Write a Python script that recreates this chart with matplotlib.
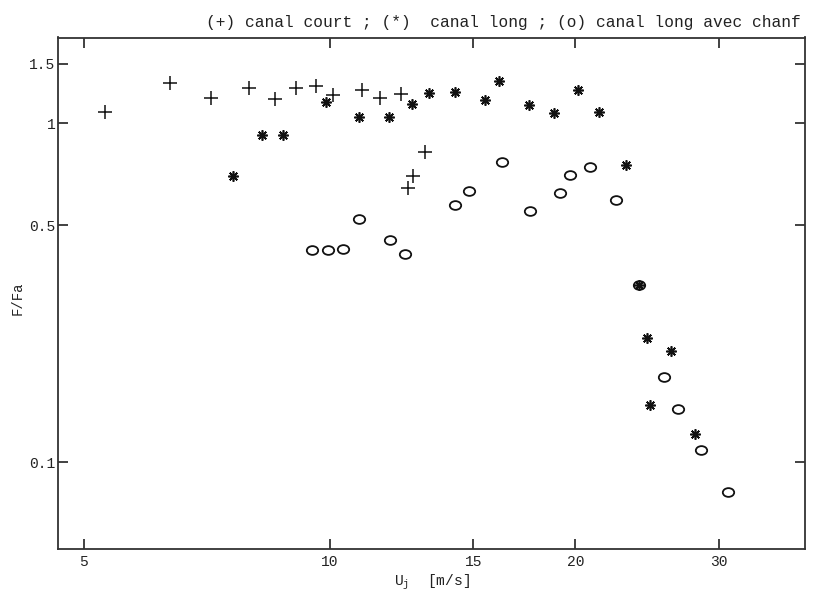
import numpy as np
import matplotlib
matplotlib.use("Agg")
import matplotlib.pyplot as plt
from matplotlib.markers import MarkerStyle
from matplotlib.transforms import Affine2D

plt.rcParams['font.family'] = ['Liberation Mono', 'DejaVu Sans Mono']
plt.rcParams['mathtext.fontset'] = 'custom'
plt.rcParams['mathtext.rm'] = 'Liberation Mono'
plt.rcParams['mathtext.it'] = 'Liberation Mono'

#---------------------- data ----------------------
# (+) canal court
uj_court = [5.31, 6.38, 7.16, 7.97, 8.57, 9.10, 9.63, 10.09, 10.97, 11.52,
            12.23, 13.07, 12.64, 12.46]
f_court = [1.080, 1.318, 1.188, 1.271, 1.177, 1.271, 1.288, 1.215, 1.249, 1.185,
           1.220, 0.823, 0.698, 0.642]

# (*) canal long
uj_long = [7.61, 8.26, 8.76, 9.89, 10.86, 11.81, 12.61, 13.25, 14.25, 15.50,
           16.10, 17.55, 18.82, 20.15, 21.36, 23.05, 23.89, 24.48, 26.15, 24.66,
           28.0]
f_long = [0.699, 0.926, 0.922, 1.156, 1.044, 1.044, 1.143, 1.228, 1.234, 1.169,
          1.330, 1.135, 1.070, 1.257, 1.080, 0.755, 0.332, 0.2326, 0.2126, 0.147,
          0.121]

# (o) canal long avec chanfrein
uj_chanf = [9.51, 9.95, 10.38, 10.85, 11.85, 12.36, 14.24, 14.81, 16.27, 17.57,
            19.13, 19.70, 20.81, 22.41, 23.89, 25.66, 26.67, 28.50, 30.73]
f_chanf = [0.422, 0.422, 0.426, 0.520, 0.452, 0.410, 0.573, 0.629, 0.767, 0.549,
           0.623, 0.702, 0.743, 0.593, 0.332, 0.178, 0.1433, 0.1085, 0.0814]

xticks = [5, 10, 15, 20, 30]
yticks = [0.1, 0.5, 1, 1.5]
ytick_labels = ['0.1', '0.5', '1', '1.5']

#---------------------- figure ----------------------
fig = plt.figure(figsize=(8.14, 5.92), dpi=100)
ax = fig.add_axes([58/814, 1-549/592, (805-58)/814, (549-37.5)/592])

ax.plot(uj_court, f_court, linestyle='none', marker='+', markersize=9.5,
        markeredgewidth=1.1, color='#111111')
ax.plot(uj_long, f_long, linestyle='none', marker=(8, 2, 0), markersize=7.5,
        markeredgewidth=1.2, color='#111111')
ellipse = MarkerStyle('o', fillstyle='none', transform=Affine2D().scale(1.3, 1.0))
ax.plot(uj_chanf, f_chanf, linestyle='none', marker=ellipse, markersize=6.3,
        markeredgewidth=1.3, color='#111111')

ax.set_xscale('log')
ax.set_yscale('log')
ax.set_xlim(4.65, 38.2)
ax.set_ylim(0.0554, 1.79)

ax.set_xticks(xticks)
ax.set_xticklabels([str(v) for v in xticks])
ax.set_yticks(yticks)
ax.set_yticklabels(ytick_labels)
ax.minorticks_off()
ax.tick_params(direction='in', length=7, width=1.3, color='#333333',
               top=True, right=True, labelsize=10.5, labelcolor='#222222')
ax.tick_params(axis='x', pad=4)
ax.tick_params(axis='y', pad=2)
for s in ax.spines.values():
    s.set_color('#333333')
    s.set_linewidth(1.3)

ax.set_xlabel('U$_{\\mathrm{j}}$  [m/s]', fontsize=10.5, color='#222222', labelpad=3)
ax.set_ylabel('F/Fa', fontsize=10, color='#222222', ha='center', va='center')
ax.yaxis.set_label_coords(-(58 - 18) / 747, 0.49)

fig.text(206/814, 1-22/592, '(+) canal court ; (*)  canal long ; (o) canal long avec chanf',
         ha='left', va='center', fontsize=11.7, color='#222222')

fig.savefig('out.png', dpi=100)
